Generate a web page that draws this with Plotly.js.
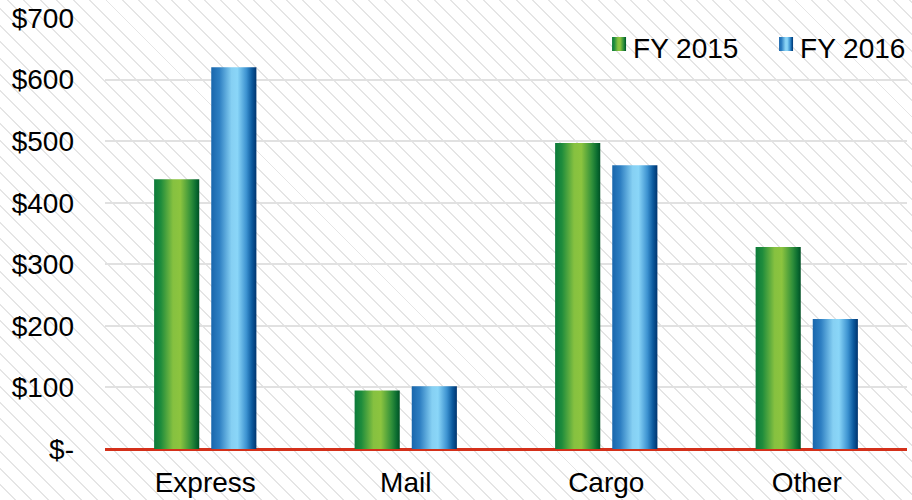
<!DOCTYPE html>
<html>
<head>
<meta charset="utf-8">
<script src="https://cdn.plot.ly/plotly-3.0.1.min.js"></script>
<style>
html, body { margin: 0; padding: 0; }
body {
  width: 912px; height: 500px; overflow: hidden;
  background-color: #ffffff;
  background-image: repeating-linear-gradient(45deg, rgba(255,255,255,0) 0px, rgba(255,255,255,0) 10.2px, #e5e5e5 10.2px, #e5e5e5 11.6px);
}
#chart { width: 912px; height: 500px; }
</style>
</head>
<body>
<div id="chart"></div>
<script>
const categories = ["Express", "Mail", "Cargo", "Other"];
const fy2015 = [438, 95, 497, 328];
const fy2016 = [620, 102, 461, 211];
const seriesNames = ["FY 2015", "FY 2016"];
const yTickVals = [0, 100, 200, 300, 400, 500, 600, 700];
const yTickText = ["$-", "$100", "$200", "$300", "$400", "$500", "$600", "$700"];

const font = "Liberation Sans, Arial, Helvetica, sans-serif";

const traces = [
  { type: "bar", x: categories, y: fy2015, name: seriesNames[0], marker: { color: "#4aa43c" }, hoverinfo: "none" },
  { type: "bar", x: categories, y: fy2016, name: seriesNames[1], marker: { color: "#3a90d0" }, hoverinfo: "none" }
];

const layout = {
  width: 912, height: 500,
  margin: { l: 105, r: 5, t: 18, b: 51, autoexpand: false },
  paper_bgcolor: "rgba(0,0,0,0)",
  plot_bgcolor: "rgba(0,0,0,0)",
  font: { family: font, size: 28, color: "#000" },
  barmode: "group",
  bargap: 0.43,
  bargroupgap: 0.21,
  showlegend: true,
  legend: {
    orientation: "h", x: 1.025, xanchor: "right", y: 0.99, yanchor: "top",
    bgcolor: "rgba(0,0,0,0)", font: { family: font, size: 28, color: "#000" },
    itemwidth: 30, entrywidth: 122, traceorder: "normal"
  },
  xaxis: {
    type: "category", showgrid: false, zeroline: false, showline: false,
    ticks: "", ticklabelstandoff: 14, automargin: false,
    tickfont: { family: font, size: 28, color: "#000" }
  },
  yaxis: {
    range: [0, 700], tickvals: yTickVals, ticktext: yTickText,
    showgrid: true, gridcolor: "#e1e1e1", gridwidth: 2,
    zeroline: true, zerolinecolor: "#d4301a", zerolinewidth: 3,
    showline: false, ticks: "", ticklabelstandoff: 30, automargin: false,
    tickfont: { family: font, size: 28, color: "#000" }
  }
};

function addGradients(gd) {
  const svg = gd.querySelector("svg.main-svg");
  const ns = "http://www.w3.org/2000/svg";
  let defs = svg.querySelector("defs");
  if (!defs) { defs = document.createElementNS(ns, "defs"); svg.insertBefore(defs, svg.firstChild); }
  const grads = {
    gGreen: [[0, "#0c7a3a"], [0.15, "#1e8c3c"], [0.42, "#86c140"], [0.58, "#8cc43f"], [0.82, "#2f8f3a"], [0.93, "#0b6c30"], [1, "#005024"]],
    gBlue: [[0, "#1966ac"], [0.18, "#2e7fc2"], [0.45, "#86d0f3"], [0.58, "#8ad6f8"], [0.78, "#3c92d0"], [0.9, "#0c5a9e"], [1, "#00346e"]]
  };
  Object.keys(grads).forEach(id => {
    const lg = document.createElementNS(ns, "linearGradient");
    lg.setAttribute("id", id);
    lg.setAttribute("x1", "0"); lg.setAttribute("y1", "0");
    lg.setAttribute("x2", "1"); lg.setAttribute("y2", "0");
    grads[id].forEach(s => {
      const st = document.createElementNS(ns, "stop");
      st.setAttribute("offset", s[0]);
      st.setAttribute("stop-color", s[1]);
      lg.appendChild(st);
    });
    defs.appendChild(lg);
  });
  const ids = ["gGreen", "gBlue"];
  gd.querySelectorAll("g.trace.bars").forEach((g, i) => {
    g.querySelectorAll("path").forEach(p => { p.style.fill = "url(#" + ids[i] + ")"; p.style.stroke = "none"; });
  });
  gd.querySelectorAll("g.legend g.traces").forEach((g, i) => {
    g.querySelectorAll("g.legendpoints path").forEach(p => {
      p.style.fill = "url(#" + ids[i] + ")";
      p.style.stroke = "none";
      p.setAttribute("d", "M-7,-7H7V7H-7Z");
    });
    const lp = g.querySelector("g.legendpoints");
    if (lp) lp.setAttribute("transform", "translate(6,-3)");
  });
}

Plotly.newPlot("chart", traces, layout, { staticPlot: true, displayModeBar: false }).then(addGradients);
</script>
</body>
</html>
